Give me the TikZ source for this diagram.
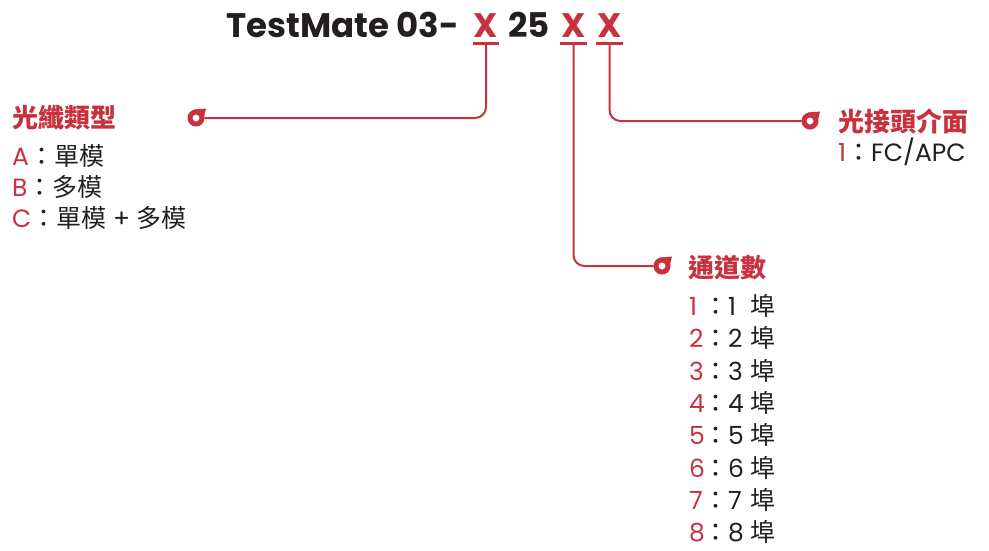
\documentclass[tikz,border=0pt]{standalone}
\usepackage{fontspec}
\setmainfont{Poppins}
\newfontfamily\zh{Noto Sans CJK TC}
\usetikzlibrary{positioning}

\definecolor{tmred}{RGB}{200,50,62}
\definecolor{tmink}{RGB}{35,31,32}
\newcommand{\optkey}[1]{\textcolor{tmred}{#1}}

\tikzset{
  lead/.style={tmred, line width=2pt, rounded corners=11pt},
  ring/.style={circle, draw=tmred, line width=5pt, minimum size=12pt, inner sep=0pt},
  code/.style={tmred, anchor=base, inner xsep=1pt, inner ysep=0pt,
    font=\fontsize{34}{34}\selectfont\bfseries},
  head/.style={tmred, anchor=west, inner sep=0pt,
    font=\fontsize{26}{26}\selectfont\zh\bfseries},
  item/.style={tmink, anchor=west, inner sep=0pt,
    font=\fontsize{25}{25}\selectfont},
}

\begin{document}
\begin{tikzpicture}[x=1pt,y=-1pt]
  \useasboundingbox (0,0) rectangle (989,550);

  % model number
  \node[tmink, anchor=base east, inner sep=0pt, font=\fontsize{34}{34}\selectfont\bfseries]
    (model) at (459,37) {TestMate 03-};
  \node[code] (xtype) at (486,37) {X};
  \node[code, tmink] (size) at (529,37) {25};
  \node[code] (xport) at (573.5,37) {X};
  \node[code] (xconn) at (609.5,37) {X};
  \foreach \x in {xtype,xport,xconn}{
    \draw[tmred, line width=2.8pt] ([yshift=-6pt]\x.south west) -- ([yshift=-6pt]\x.south east);
    \coordinate (\x foot) at ([yshift=-6pt]\x.south);
  }

  % markers
  \node[ring] (rtype) at (196,118) {};
  \node[ring] (rport) at (662,266) {};
  \node[ring] (rconn) at (810,121) {};
  \foreach \r in {rtype,rport,rconn}
    \fill[tmred] ([xshift=-2pt]\r.north) -- ++(12,-1) -- ([shift={(8,-1)}]\r.center) -- cycle;

  % leaders
  \draw[lead] (xtypefoot) |- (rtype);
  \draw[lead] (xportfoot) |- (rport);
  \draw[lead] (xconnfoot) |- (rconn);

  % fibre type
  \node[head] (htype) at (12,118) {光纖類型};
  \node[item] (typeA) at (12,156) {\optkey{A}{\zh ：單模}};
  \node[item] (typeB) at (12,187) {\optkey{B}{\zh ：多模}};
  \node[item] (typeC) at (12,218) {\optkey{C}{\zh ：單模} + {\zh 多模}};

  % connector
  \node[head] (hconn) at (838,121) {光接頭介面};
  \node[item] (conn1) at (838,152) {\optkey{1}{\zh ：}FC/APC};

  % channels
  \node[head] (hport) at (688,268) {通道數};
  \foreach \n in {1,...,8}
    \node[item] (port\n) at (689,{306+32.3*(\n-1)})
      {\makebox[14pt][l]{\optkey{\n}}{\zh ：}\makebox[22pt][l]{\n}{\zh 埠}};

\end{tikzpicture}
\end{document}
